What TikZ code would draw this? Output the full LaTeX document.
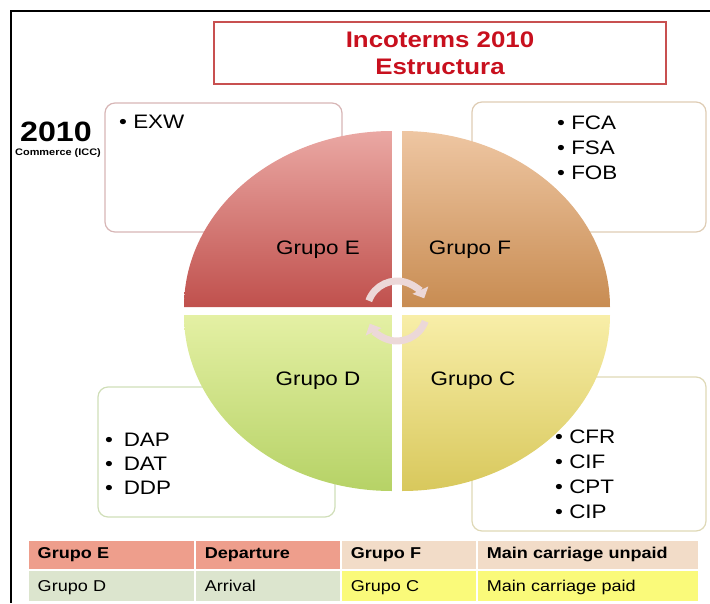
\documentclass[tikz,border=0pt]{standalone}
\usepackage{fontspec}
\setmainfont{Liberation Sans}[FakeStretch=1.15]
\usetikzlibrary{arrows.meta}
\definecolor{titlered}{RGB}{200,16,30}
\definecolor{titleline}{RGB}{200,80,80}
\definecolor{lineE}{RGB}{215,182,182}
\definecolor{lineF}{RGB}{222,204,180}
\definecolor{lineD}{RGB}{208,222,184}
\definecolor{lineC}{RGB}{222,216,182}
\definecolor{cycpink}{RGB}{236,216,216}
\definecolor{salmon}{RGB}{238,158,140}
\definecolor{peach}{RGB}{242,220,200}
\definecolor{sage}{RGB}{220,229,206}
\definecolor{lemon}{RGB}{250,250,122}
\begin{document}
\begin{tikzpicture}[x=1pt,y=-1pt,
    grp/.style={font=\fontsize{19.5}{23}\selectfont},
    items/.style={anchor=north west,inner sep=0pt,align=left,font=\fontsize{19.5}{25}\selectfont},
    listbox/.style={rounded corners=10pt,line width=1.2pt},
    cell/.style={anchor=north west,inner xsep=10pt,inner ysep=0pt,align=left,draw=white,line width=1.5pt,
                 text height=11.5pt,text depth=3.5pt,font=\fontsize{15.7}{18}\selectfont},
    lowcell/.style={cell,minimum height=32pt,text height=13pt,text depth=2pt},
    cyc/.style={line width=7pt,draw=cycpink,-{Triangle[length=9pt,width=17pt]}}]
	\useasboundingbox (0,0) rectangle (710,603);
	% frame
	\draw[line width=2.5pt] (710,11) -- (11,11) -- (11,603);
	% title
	\node[draw=titleline, line width=1.8pt, minimum width=452pt, minimum height=62pt, align=center, text=titlered,
	      font=\fontsize{22.5}{27}\selectfont\bfseries] (title) at (440,53) {Incoterms 2010\\Estructura};
	\node[font=\fontsize{28}{30}\selectfont\bfseries] (year) at (56,132) {2010};
	\node[font=\fontsize{9.5}{11}\selectfont\bfseries] (icc) at (58,153) {Commerce (ICC)};
	% boxes
	\draw[listbox, draw=lineE] (105,103) rectangle (342,232);
	\draw[listbox, draw=lineF] (472,102) rectangle (706,232);
	\draw[listbox, draw=lineD] (98,387) rectangle (335,517);
	\draw[listbox, draw=lineC] (472,377) rectangle (706,531);
	% quadrants
	\coordinate (hub) at (397,311);
	\shade[top color={rgb,255:red,234;green,168;blue,163}, bottom color={rgb,255:red,192;green,80;blue,77}]
		(392,307) -- (184,307) arc[start angle=180, end angle=270, x radius=208, y radius=176] -- cycle;
	\shade[top color={rgb,255:red,238;green,198;blue,162}, bottom color={rgb,255:red,200;green,140;blue,82}]
		(402,307) -- (402,131) arc[start angle=270, end angle=360, x radius=208, y radius=176] -- cycle;
	\shade[top color={rgb,255:red,228;green,240;blue,164}, bottom color={rgb,255:red,182;green,210;blue,102}]
		(392,315) -- (184,315) arc[start angle=180, end angle=90, x radius=208, y radius=176] -- cycle;
	\shade[top color={rgb,255:red,248;green,238;blue,168}, bottom color={rgb,255:red,216;green,200;blue,92}]
		(402,315) -- (610,315) arc[start angle=0, end angle=90, x radius=208, y radius=176] -- cycle;
	\node[grp] (grpE) at (318,250) {Grupo E};
	\node[grp] (grpF) at (470,250) {Grupo F};
	\node[grp] (grpD) at (318,381) {Grupo D};
	\node[grp] (grpC) at (473,381) {Grupo C};
	% cycle arrows
	\draw[cyc] ([shift={(-160:30)}]hub) arc[start angle=-160, end angle=-25, radius=30];
	\draw[cyc] ([shift={(20:30)}]hub) arc[start angle=20, end angle=155, radius=30];
	% lists
	\node[items] (listE) at (119,115) {• EXW};
	\node[items] (listF) at (557,116) {• FCA\\• FSA\\• FOB};
	\node[items, font=\fontsize{19.5}{24}\selectfont] (listD) at (105,433) {•\hspace{0.55em}DAP\\•\hspace{0.55em}DAT\\•\hspace{0.55em}DDP};
	\node[items] (listC) at (555,430) {• CFR\\• CIF\\• CPT\\• CIP};
	% table
	\node[cell, fill=salmon, text width=147pt, minimum height=30pt, font=\fontsize{15.7}{18}\selectfont\bfseries] (tE) at (27,539) {Grupo E};
	\node[cell, fill=salmon, text width=126pt, minimum height=30pt, font=\fontsize{15.7}{18}\selectfont\bfseries] (tDep) at (194,539) {Departure};
	\node[cell, fill=peach, text width=116pt, minimum height=30pt, font=\fontsize{15.7}{18}\selectfont\bfseries] (tF) at (340,539) {Grupo F};
	\node[cell, fill=peach, text width=202pt, minimum height=30pt, font=\fontsize{15.7}{18}\selectfont\bfseries] (tUnpaid) at (476,539) {Main carriage unpaid};
	\node[lowcell, fill=sage, text width=147pt] (tD) at (27,569) {Grupo D};
	\node[lowcell, fill=sage, text width=126pt] (tArr) at (194,569) {Arrival};
	\node[lowcell, fill=lemon, text width=116pt] (tC) at (340,569) {Grupo C};
	\node[lowcell, fill=lemon, text width=202pt] (tPaid) at (476,569) {Main carriage paid};
\end{tikzpicture}
\end{document}
